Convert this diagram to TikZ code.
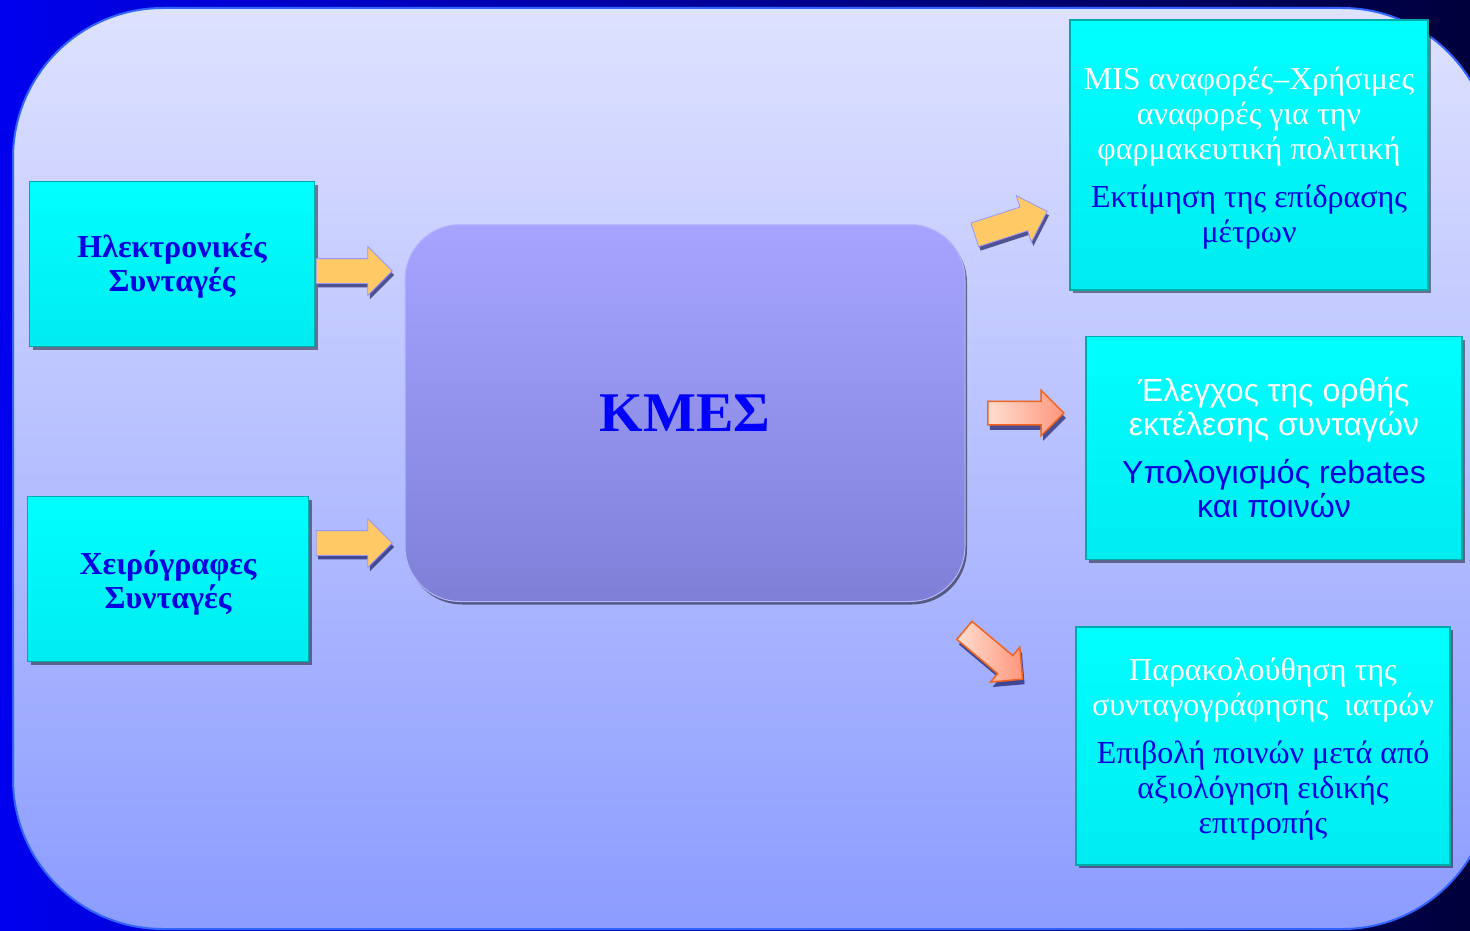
\documentclass[tikz,border=0pt]{standalone}
\usepackage{fontspec}
\setmainfont{Liberation Serif}
\newfontfamily\arialfont{Liberation Sans}
\usetikzlibrary{shapes.arrows,shadows}

\definecolor{BackLeft}{RGB}{0,0,238}
\definecolor{BackRight}{RGB}{0,0,60}
\definecolor{PanelTop}{RGB}{222,226,255}
\definecolor{PanelLow}{RGB}{140,156,255}
\definecolor{PanelEdge}{RGB}{50,100,255}
\definecolor{CyanLow}{RGB}{0,236,240}
\definecolor{CyanEdge}{RGB}{0,170,170}
\definecolor{HubTop}{RGB}{166,164,255}
\definecolor{HubLow}{RGB}{126,128,216}
\definecolor{InFill}{RGB}{255,201,101}
\definecolor{InEdge}{RGB}{150,150,255}
\definecolor{OutLight}{RGB}{255,222,208}
\definecolor{OutDark}{RGB}{255,150,125}
\definecolor{OutEdge}{RGB}{240,100,30}
\definecolor{TextBlue}{RGB}{0,0,225}

\begin{document}
\begin{tikzpicture}[x=1pt,y=-1pt]

\tikzstyle{rxbox}    = [draw=CyanEdge, line width=1.5pt, top color=cyan, bottom color=CyanLow,
                        drop shadow={shadow xshift=3pt, shadow yshift=-3pt, opacity=.45, fill=black},
                        inner sep=0pt]
\tikzstyle{rxlbl}    = [align=center, text=TextBlue, inner sep=0pt]
\tikzstyle{inarrow}  = [single arrow, draw=InEdge, line width=0.8pt, fill=InFill,
                        minimum height=76pt, inner xsep=0pt, inner ysep=12pt, single arrow head extend=12pt,
                        drop shadow={shadow xshift=2pt, shadow yshift=-4pt, opacity=.6, fill=black!70!blue}]
\tikzstyle{outarrow} = [single arrow, draw=OutEdge, line width=1.5pt, left color=OutLight, right color=OutDark,
                        minimum height=76pt, inner xsep=0pt, inner ysep=11pt, single arrow head extend=11pt,
                        drop shadow={shadow xshift=2pt, shadow yshift=-5pt, opacity=.6, fill=black!70!blue}]

\clip (0,0) rectangle (1470,931);
\useasboundingbox (0,0) rectangle (1470,931);

% background and panel
\shade [left color=BackLeft, right color=BackRight] (0,0) rectangle (1470,931);
\shade [top color=PanelTop, bottom color=PanelLow, rounded corners=150pt]
  (13,8) rectangle (1492,929);
\draw [PanelEdge, line width=2pt, rounded corners=150pt] (13,8) rectangle (1492,929);

% input boxes
\node [rxbox, minimum width=285pt, minimum height=165pt] (ElecRx) at (172,264) {};
\node [rxbox, minimum width=281pt, minimum height=165pt] (HandRx) at (168,579) {};
\node [rxlbl, font=\fontsize{32}{34}\selectfont\bfseries, yshift=-2pt] (ElecTxt) at (ElecRx.center)
  {Ηλεκτρονικές\\Συνταγές};
\node [rxlbl, font=\fontsize{32}{34}\selectfont\bfseries, yshift=-4pt] (HandTxt) at (HandRx.center)
  {Χειρόγραφες\\Συνταγές};

% central hub
\node [rounded corners=55pt, top color=HubTop, bottom color=HubLow, draw=HubTop!80!white, line width=1pt,
       drop shadow={shadow xshift=2pt, shadow yshift=-3pt, opacity=.5, fill=black},
       minimum width=560pt, minimum height=377pt,
       font=\fontsize{56}{60}\selectfont\bfseries, text=blue] (KMES) at (685,413) {ΚΜΕΣ};

% output boxes
\node [rxbox, minimum width=358pt, minimum height=270pt] (OutMIS)   at (1249,155) {};
\node [rxbox, minimum width=376pt, minimum height=223pt] (OutCheck) at (1274,448) {};
\node [rxbox, minimum width=374pt, minimum height=238pt] (OutPenal) at (1263,746) {};

\node [rxlbl, font=\fontsize{32}{35}\selectfont, yshift=-3pt] (MISTxt) at (OutMIS.center)
  {\textcolor{white}{MIS αναφορές–Χρήσιμες}\\\textcolor{white}{αναφορές για την}\\
   \textcolor{white}{φαρμακευτική πολιτική}\\[13pt]
   Εκτίμηση της επίδρασης\\μέτρων};
\node [rxlbl, font=\fontsize{32}{34}\selectfont\arialfont] (CheckTxt) at (OutCheck.center)
  {\textcolor{white}{Έλεγχος της ορθής}\\\textcolor{white}{εκτέλεσης συνταγών}\\[14pt]
   Υπολογισμός rebates\\και ποινών};
\node [rxlbl, font=\fontsize{32}{35}\selectfont, yshift=-3pt] (PenalTxt) at (OutPenal.center)
  {\textcolor{white}{Παρακολούθηση της}\\\textcolor{white}{συνταγογράφησης~ ιατρών}\\[13pt]
   Επιβολή ποινών μετά από\\αξιολόγηση ειδικής\\επιτροπής};

% block arrows
\node [inarrow] (ArrElec) at (348,271) {};
\node [inarrow] (ArrHand) at (348,543) {};
\node [inarrow, rotate=18] (ArrMIS) at (1005,225) {};
\node [outarrow] (ArrCheck) at (1020,413) {};
\node [outarrow, rotate=-40] (ArrPenal) at (989,651) {};

\end{tikzpicture}
\end{document}
